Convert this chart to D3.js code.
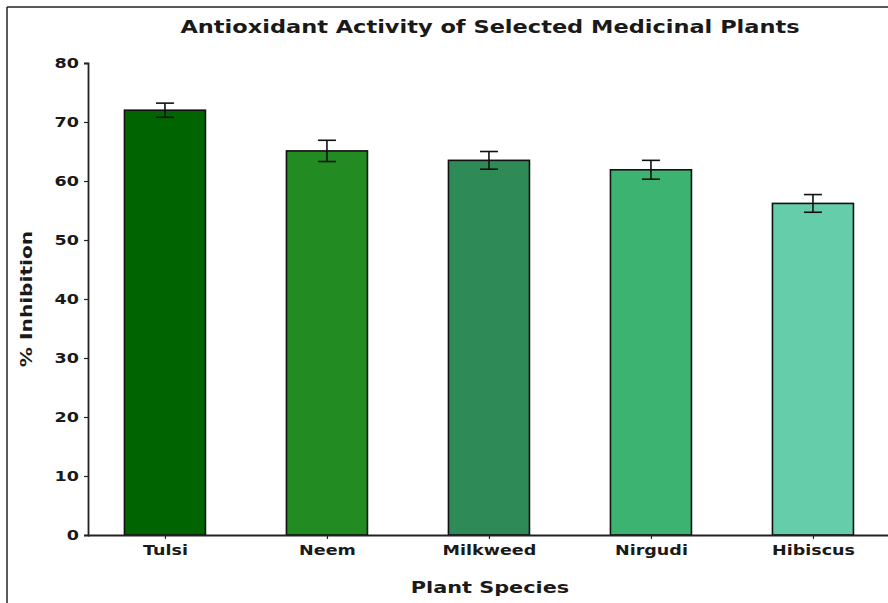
<!DOCTYPE html>
<html>
<head>
<meta charset="utf-8">
<script src="https://cdn.jsdelivr.net/npm/d3@7/dist/d3.min.js"></script>
<style>
  html, body { margin: 0; padding: 0; background: #fff; }
  svg text { font-family: "DejaVu Sans", sans-serif; font-weight: bold; fill: #1a1a1a; }
</style>
</head>
<body>
<svg id="chart" width="888" height="603"></svg>
<script>
// Plant species and their DPPH % inhibition (mean ± SD)
const species = ["Tulsi", "Neem", "Milkweed", "Nirgudi", "Hibiscus"];
const inhibition = [72.0, 65.1, 63.5, 61.9, 56.2];
const errors = [1.2, 1.8, 1.5, 1.6, 1.5];
const barColors = ["#006400", "#228B22", "#2E8B57", "#3CB371", "#66CDAA"];
const yTicks = [0, 10, 20, 30, 40, 50, 60, 70, 80];

const svg = d3.select("#chart");
const W = 888, H = 603;
const STRETCH = 1.3; // wide lettering

// outer frame (left and top edges)
svg.append("line").attr("x1", 7).attr("x2", W).attr("y1", 7).attr("y2", 7)
  .attr("stroke", "#222").attr("stroke-width", 1.5);
svg.append("line").attr("x1", 7).attr("x2", 7).attr("y1", 7).attr("y2", H)
  .attr("stroke", "#222").attr("stroke-width", 1.5);

const plot = { left: 88, top: 63, bottom: 535 };

// index-based positions: bars 0.5 wide, axis from -0.475 to 4.475
const xIdx = d3.scaleLinear().domain([-0.475, 4.475]).range([plot.left, plot.left + 4.95 * 162]);
const y = d3.scaleLinear().domain([0, 80]).range([plot.bottom, plot.top]);

const g = svg.append("g");

// bars
g.selectAll("rect.bar").data(species).join("rect")
  .attr("class", "bar")
  .attr("x", (d, i) => xIdx(i - 0.25))
  .attr("width", (d, i) => xIdx(i + 0.25) - xIdx(i - 0.25))
  .attr("y", (d, i) => y(inhibition[i]))
  .attr("height", (d, i) => y(0) - y(inhibition[i]))
  .attr("fill", (d, i) => barColors[i])
  .attr("stroke", "#111")
  .attr("stroke-width", 1.6);

// error bars
const capHalf = 9;
const eb = g.selectAll("g.err").data(species).join("g").attr("class", "err");
eb.append("line")
  .attr("x1", (d, i) => xIdx(i)).attr("x2", (d, i) => xIdx(i))
  .attr("y1", (d, i) => y(inhibition[i] - errors[i]))
  .attr("y2", (d, i) => y(inhibition[i] + errors[i]))
  .attr("stroke", "#111").attr("stroke-width", 1.6);
eb.append("line")
  .attr("x1", (d, i) => xIdx(i) - capHalf).attr("x2", (d, i) => xIdx(i) + capHalf)
  .attr("y1", (d, i) => y(inhibition[i] + errors[i]))
  .attr("y2", (d, i) => y(inhibition[i] + errors[i]))
  .attr("stroke", "#111").attr("stroke-width", 1.6);
eb.append("line")
  .attr("x1", (d, i) => xIdx(i) - capHalf).attr("x2", (d, i) => xIdx(i) + capHalf)
  .attr("y1", (d, i) => y(inhibition[i] - errors[i]))
  .attr("y2", (d, i) => y(inhibition[i] - errors[i]))
  .attr("stroke", "#111").attr("stroke-width", 1.6);

// y axis
const yAxis = g.append("g").attr("transform", `translate(${plot.left},0)`)
  .call(d3.axisLeft(y).tickValues(yTicks).tickSize(4).tickPadding(5));
yAxis.select(".domain").attr("stroke", "#222").attr("stroke-width", 1.8);
yAxis.selectAll(".tick line").attr("stroke", "#222").attr("stroke-width", 1.2);
yAxis.selectAll(".tick text").attr("font-size", 13.5).attr("fill", "#1a1a1a")
  .attr("x", -9 / STRETCH)
  .attr("transform", `scale(${STRETCH},1)`)
  .style("font-family", "DejaVu Sans").style("font-weight", "bold");

// x axis
const xBand = d3.scalePoint().domain(species).range([xIdx(0), xIdx(4)]);
const xAxis = g.append("g").attr("transform", `translate(0,${plot.bottom})`)
  .call(d3.axisBottom(xBand).tickSize(4).tickPadding(6).tickSizeOuter(0));
xAxis.select(".domain").attr("d", `M${plot.left},0.5H${xIdx(4.475)}`)
  .attr("stroke", "#222").attr("stroke-width", 1.8);
xAxis.selectAll(".tick line").attr("stroke", "#222").attr("stroke-width", 1.2);
xAxis.selectAll(".tick text").attr("font-size", 13.5).attr("fill", "#1a1a1a")
  .attr("transform", `scale(${STRETCH},1)`)
  .style("font-family", "DejaVu Sans").style("font-weight", "bold");

// titles
function wideText(x, yPos, size, str, rotate) {
  const t = svg.append("text")
    .attr("transform", `translate(${x},${yPos})${rotate ? " rotate(-90)" : ""} scale(${STRETCH},1)`)
    .attr("text-anchor", "middle").attr("font-size", size).text(str);
  return t;
}
wideText(490, 33, 17.3, "Antioxidant Activity of Selected Medicinal Plants");
wideText(490, 593, 16, "Plant Species");
wideText(32, 299, 15.5, "% Inhibition", true);
</script>
</body>
</html>
